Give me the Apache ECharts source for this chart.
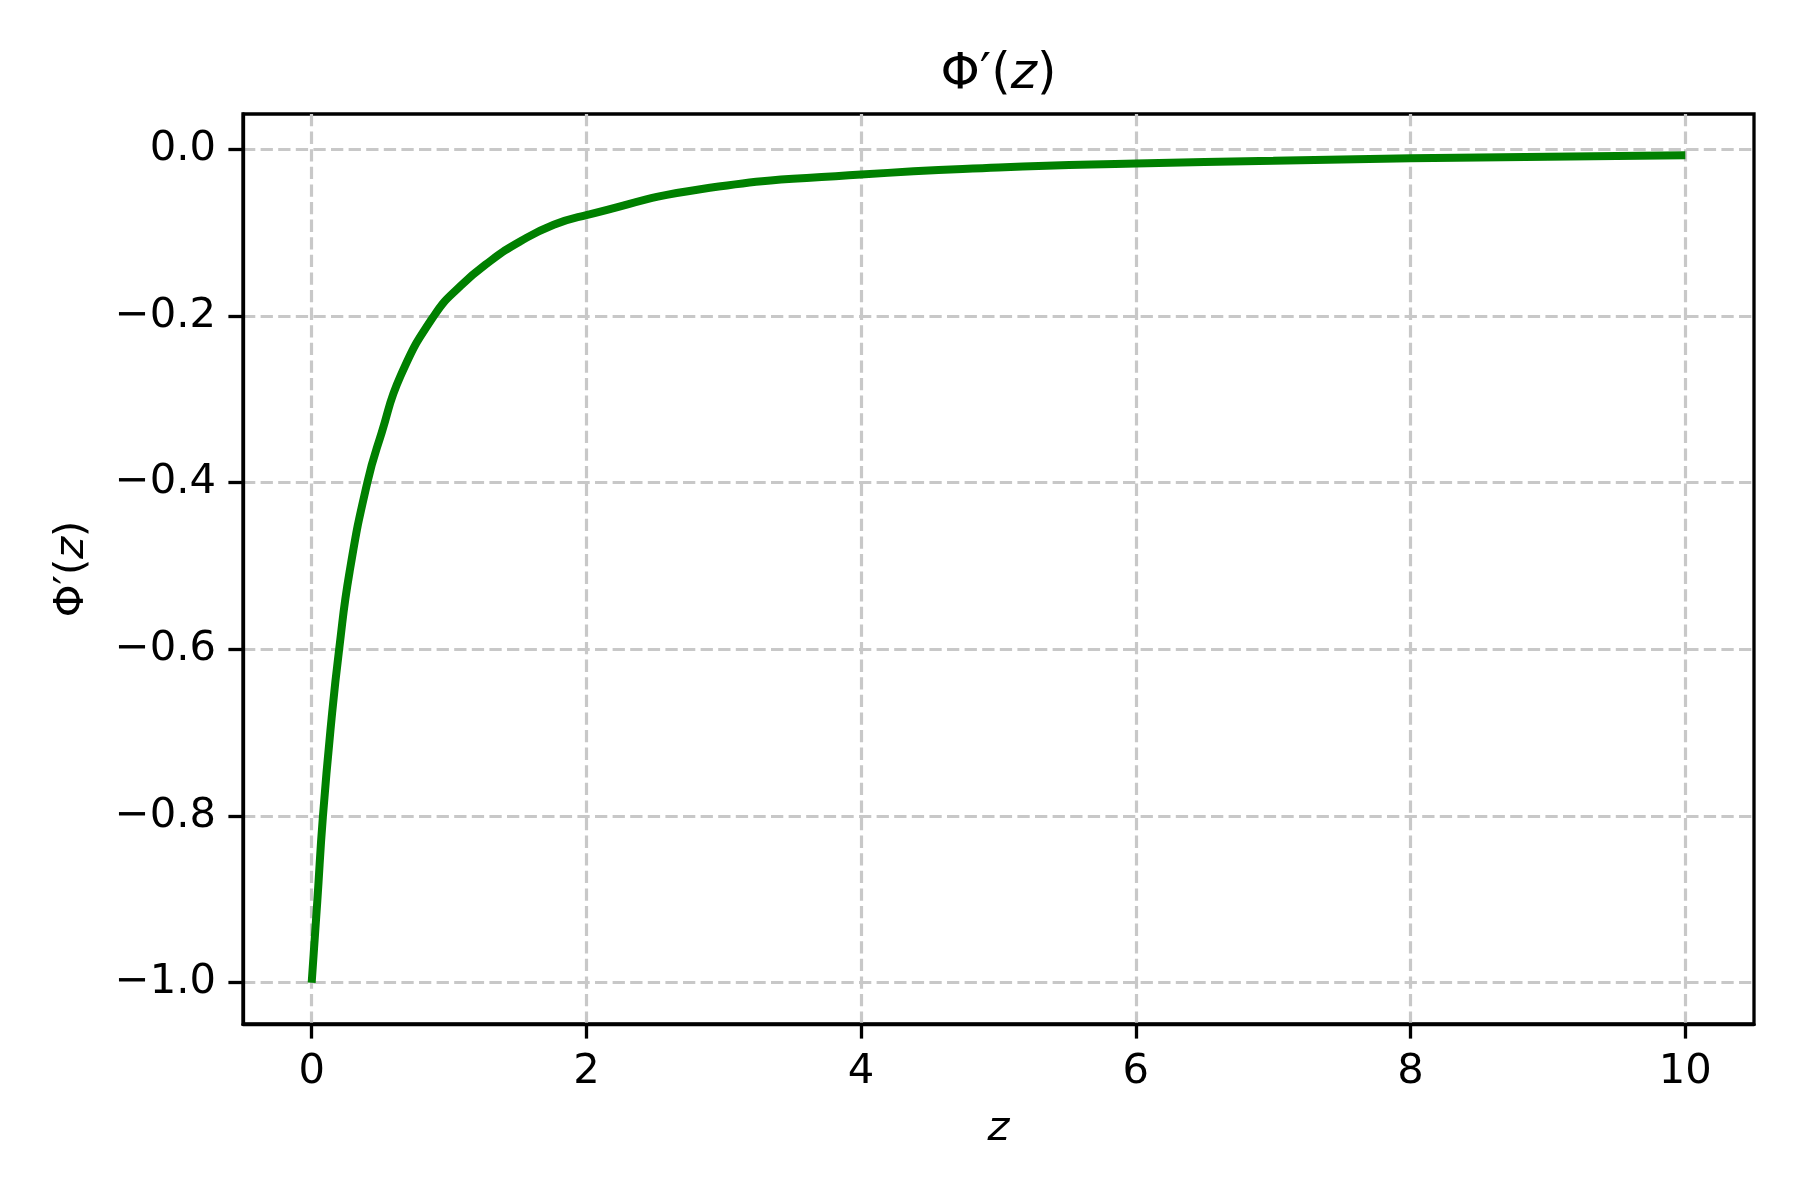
<!DOCTYPE html>
<html>
<head>
<meta charset="utf-8">
<script src="https://cdn.jsdelivr.net/npm/echarts@6/dist/echarts.min.js"></script>
<style>
html,body{margin:0;padding:0;background:#fff;}
#chart{width:1800px;height:1200px;}
</style>
</head>
<body>
<div id="chart"></div>
<script>
// Values
const zValues = [0, 0.041, 0.082, 0.145, 0.2, 0.276, 0.405, 0.51, 0.647, 0.89, 1.084, 1.302, 1.52, 1.762, 2.0, 2.83, 4.0, 5.0, 6.0, 7.0, 8.0, 9.0, 10.0];
const phiPrime = [-1.0, -0.902, -0.80, -0.683, -0.6, -0.507, -0.4, -0.340, -0.272, -0.2, -0.164, -0.134, -0.1105, -0.0906, -0.079, -0.048, -0.0305, -0.022, -0.0173, -0.014, -0.011, -0.009, -0.0074];
const xTicks = [0, 2, 4, 6, 8, 10];
const yTicks = [-1.0, -0.8, -0.6, -0.4, -0.2, 0.0];

const FONT = 'DejaVu Sans';
const gridDash = [12.3, 5.3];
const chart = echarts.init(document.getElementById('chart'), null, {renderer: 'canvas'});

const fmtY = v => (v < 0 ? '\u2212' : '') + Math.abs(v).toFixed(1);

chart.setOption({
  animation: false,
  backgroundColor: '#ffffff',
  title: {
    text: '{a|\u03A6\u2032(}{b|z}{a|)}',
    left: 998.5,
    textAlign: 'center',
    top: 50,
    padding: 0,
    textStyle: {
      fontWeight: 'normal',
      rich: {
        a: {fontFamily: FONT, fontSize: 50, fontWeight: 'normal', color: '#000'},
        b: {fontFamily: FONT, fontSize: 50, fontWeight: 'normal', fontStyle: 'italic', color: '#000'}
      }
    }
  },
  grid: {
    left: 243, right: 46, top: 114, bottom: 176,
    show: true, borderColor: '#000', borderWidth: 3.3, backgroundColor: 'transparent'
  },
  xAxis: {
    type: 'value',
    min: -0.5, max: 10.5,
    name: 'z',
    nameLocation: 'middle',
    nameGap: 84,
    nameTextStyle: {fontFamily: FONT, fontSize: 41.7, fontStyle: 'italic', color: '#000'},
    axisLine: {show: true, onZero: false, lineStyle: {color: '#000', width: 3.3}},
    axisTick: {show: true, inside: false, length: 14.6, lineStyle: {color: '#000', width: 3.3}, customValues: xTicks},
    axisLabel: {fontFamily: FONT, fontSize: 41.7, color: '#000', margin: 27, customValues: xTicks,
      formatter: v => String(v)},
    splitLine: {show: true, lineStyle: {color: '#c8c8c8', width: 3.2, type: gridDash}}
  },
  yAxis: {
    type: 'value',
    min: -1.0496, max: 0.0422,
    name: '{a|\u03A6\u2032(}{b|z}{a|)}',
    nameLocation: 'middle',
    nameGap: 150,
    nameRotate: 90,
    nameTextStyle: {
      rich: {
        a: {fontFamily: FONT, fontSize: 41.7, color: '#000'},
        b: {fontFamily: FONT, fontSize: 41.7, fontStyle: 'italic', color: '#000'}
      }
    },
    axisLine: {show: true, onZero: false, lineStyle: {color: '#000', width: 3.3}},
    axisTick: {show: true, inside: false, length: 14.6, lineStyle: {color: '#000', width: 3.3}, customValues: yTicks},
    axisLabel: {fontFamily: FONT, fontSize: 41.7, color: '#000', margin: 27, customValues: yTicks,
      formatter: fmtY},
    splitLine: {show: true, lineStyle: {color: '#c8c8c8', width: 3.2, type: gridDash}}
  },
  series: [{
    type: 'line',
    data: zValues.map((z, i) => [z, phiPrime[i]]),
    smooth: 0.5,
    showSymbol: false,
    symbol: 'none',
    lineStyle: {color: '#008000', width: 8, cap: 'butt'},
    clip: true
  }]
});
</script>
</body>
</html>
